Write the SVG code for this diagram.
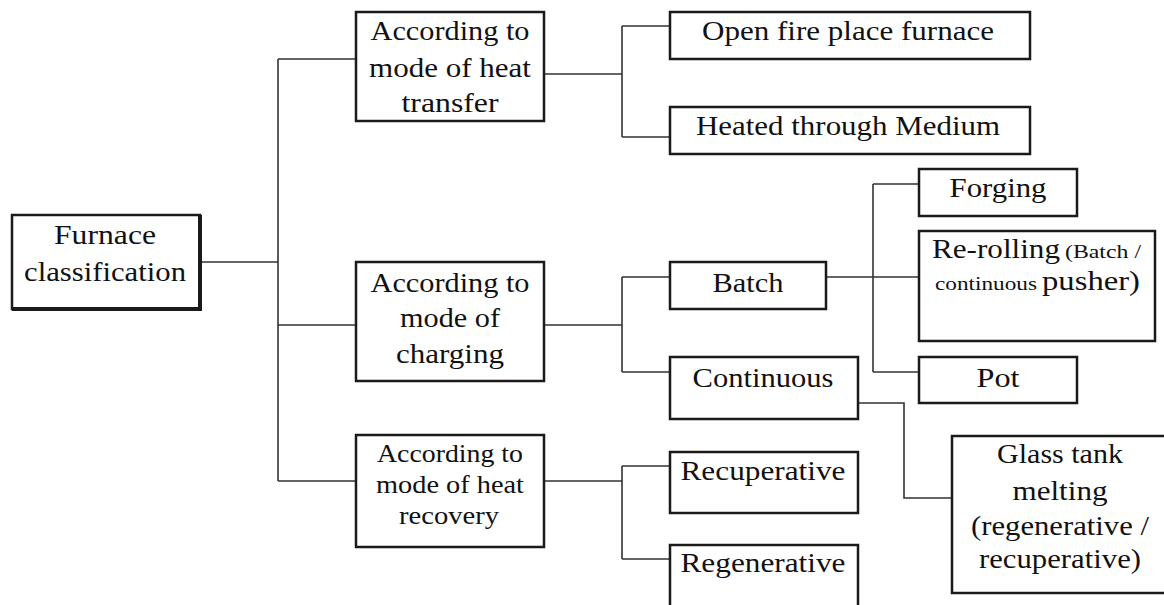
<svg xmlns="http://www.w3.org/2000/svg" width="1164" height="605" viewBox="0 0 1164 605">
<style>
.box{fill:#fff;stroke:#1a1a1a;stroke-width:2.5}
.sh{fill:none;stroke:#1a1a1a;stroke-width:4}
.t{font-family:"Liberation Serif","Times New Roman",serif;font-size:27px;fill:#111;text-anchor:middle}
.s{font-size:25px}
.sm{font-size:18px}
.st{text-anchor:start}
.c{fill:none;stroke:#333;stroke-width:1.6}
</style>
<rect width="1164" height="605" fill="#fff"/>
<g id="connectors">
<path class="c" d="M200,262 H278 M278,59 V481 M278,59 H356 M278,325 H356 M278,481 H356"/>
<path class="c" d="M544,74 H622 M622,26 V137 M622,26 H670 M622,137 H670"/>
<path class="c" d="M544,325 H622 M622,277 V372 M622,277 H670 M622,372 H670"/>
<path class="c" d="M826,277 H919 M873,184 V372 M873,184 H919 M873,372 H919"/>
<path class="c" d="M858,403 H904 V498 H952"/>
<path class="c" d="M544,481 H622 M622,466 V559 M622,466 H670 M622,559 H670"/>
</g>
<g id="furnace">
<rect class="box" x="12" y="215" width="188" height="94"/>
<path class="sh" d="M200,215 V309 H12"/>
<text class="t" x="105" y="244" textLength="102" lengthAdjust="spacingAndGlyphs">Furnace</text>
<text class="t" x="105" y="281" textLength="162" lengthAdjust="spacingAndGlyphs">classification</text>
</g>
<g id="heat-transfer">
<rect class="box" x="356" y="12" width="188" height="109"/>
<text class="t" x="450" y="40" textLength="159" lengthAdjust="spacingAndGlyphs">According to</text>
<text class="t" x="450" y="77" textLength="162" lengthAdjust="spacingAndGlyphs">mode of heat</text>
<text class="t" x="450" y="112" textLength="97" lengthAdjust="spacingAndGlyphs">transfer</text>
</g>
<g id="open-fire">
<rect class="box" x="670" y="12" width="360" height="47"/>
<text class="t" x="848" y="40" textLength="292" lengthAdjust="spacingAndGlyphs">Open fire place furnace</text>
</g>
<g id="heated-medium">
<rect class="box" x="670" y="107" width="360" height="47"/>
<text class="t" x="848" y="135" textLength="304" lengthAdjust="spacingAndGlyphs">Heated through Medium</text>
</g>
<g id="charging">
<rect class="box" x="356" y="262" width="188" height="119"/>
<text class="t" x="450" y="292" textLength="159" lengthAdjust="spacingAndGlyphs">According to</text>
<text class="t" x="450" y="327" textLength="100" lengthAdjust="spacingAndGlyphs">mode of</text>
<text class="t" x="450" y="363" textLength="108" lengthAdjust="spacingAndGlyphs">charging</text>
</g>
<g id="batch">
<rect class="box" x="670" y="262" width="156" height="47"/>
<text class="t" x="748" y="292" textLength="71" lengthAdjust="spacingAndGlyphs">Batch</text>
</g>
<g id="continuous">
<rect class="box" x="670" y="357" width="188" height="62"/>
<text class="t" x="763" y="387" textLength="141" lengthAdjust="spacingAndGlyphs">Continuous</text>
</g>
<g id="forging">
<rect class="box" x="919" y="169" width="158" height="47"/>
<text class="t" x="998" y="197" textLength="97" lengthAdjust="spacingAndGlyphs">Forging</text>
</g>
<g id="re-rolling">
<rect class="box" x="919" y="231" width="236" height="110"/>
<text class="t st" x="932" y="258" textLength="128" lengthAdjust="spacingAndGlyphs">Re-rolling</text>
<text class="t st sm" x="1065" y="258" textLength="76" lengthAdjust="spacingAndGlyphs">(Batch /</text>
<text class="t st sm" x="935" y="290" textLength="102" lengthAdjust="spacingAndGlyphs">continuous</text>
<text class="t st" x="1042" y="290" textLength="98" lengthAdjust="spacingAndGlyphs">pusher)</text>
</g>
<g id="pot">
<rect class="box" x="919" y="357" width="158" height="46"/>
<text class="t" x="998" y="387" textLength="43" lengthAdjust="spacingAndGlyphs">Pot</text>
</g>
<g id="glass-tank">
<rect class="box" x="952" y="436" width="220" height="157"/>
<text class="t" x="1060" y="463" textLength="126" lengthAdjust="spacingAndGlyphs">Glass tank</text>
<text class="t" x="1060" y="500" textLength="95" lengthAdjust="spacingAndGlyphs">melting</text>
<text class="t" x="1060" y="535" textLength="178" lengthAdjust="spacingAndGlyphs">(regenerative /</text>
<text class="t" x="1060" y="568" textLength="162" lengthAdjust="spacingAndGlyphs">recuperative)</text>
</g>
<g id="heat-recovery">
<rect class="box" x="356" y="435" width="188" height="112"/>
<text class="t s" x="450" y="462" textLength="146" lengthAdjust="spacingAndGlyphs">According to</text>
<text class="t s" x="450" y="493" textLength="148" lengthAdjust="spacingAndGlyphs">mode of heat</text>
<text class="t s" x="449" y="524" textLength="100" lengthAdjust="spacingAndGlyphs">recovery</text>
</g>
<g id="recuperative">
<rect class="box" x="670" y="452" width="188" height="61"/>
<text class="t" x="763" y="480" textLength="165" lengthAdjust="spacingAndGlyphs">Recuperative</text>
</g>
<g id="regenerative">
<rect class="box" x="670" y="545" width="188" height="75"/>
<text class="t" x="763" y="572" textLength="165" lengthAdjust="spacingAndGlyphs">Regenerative</text>
</g>
</svg>
